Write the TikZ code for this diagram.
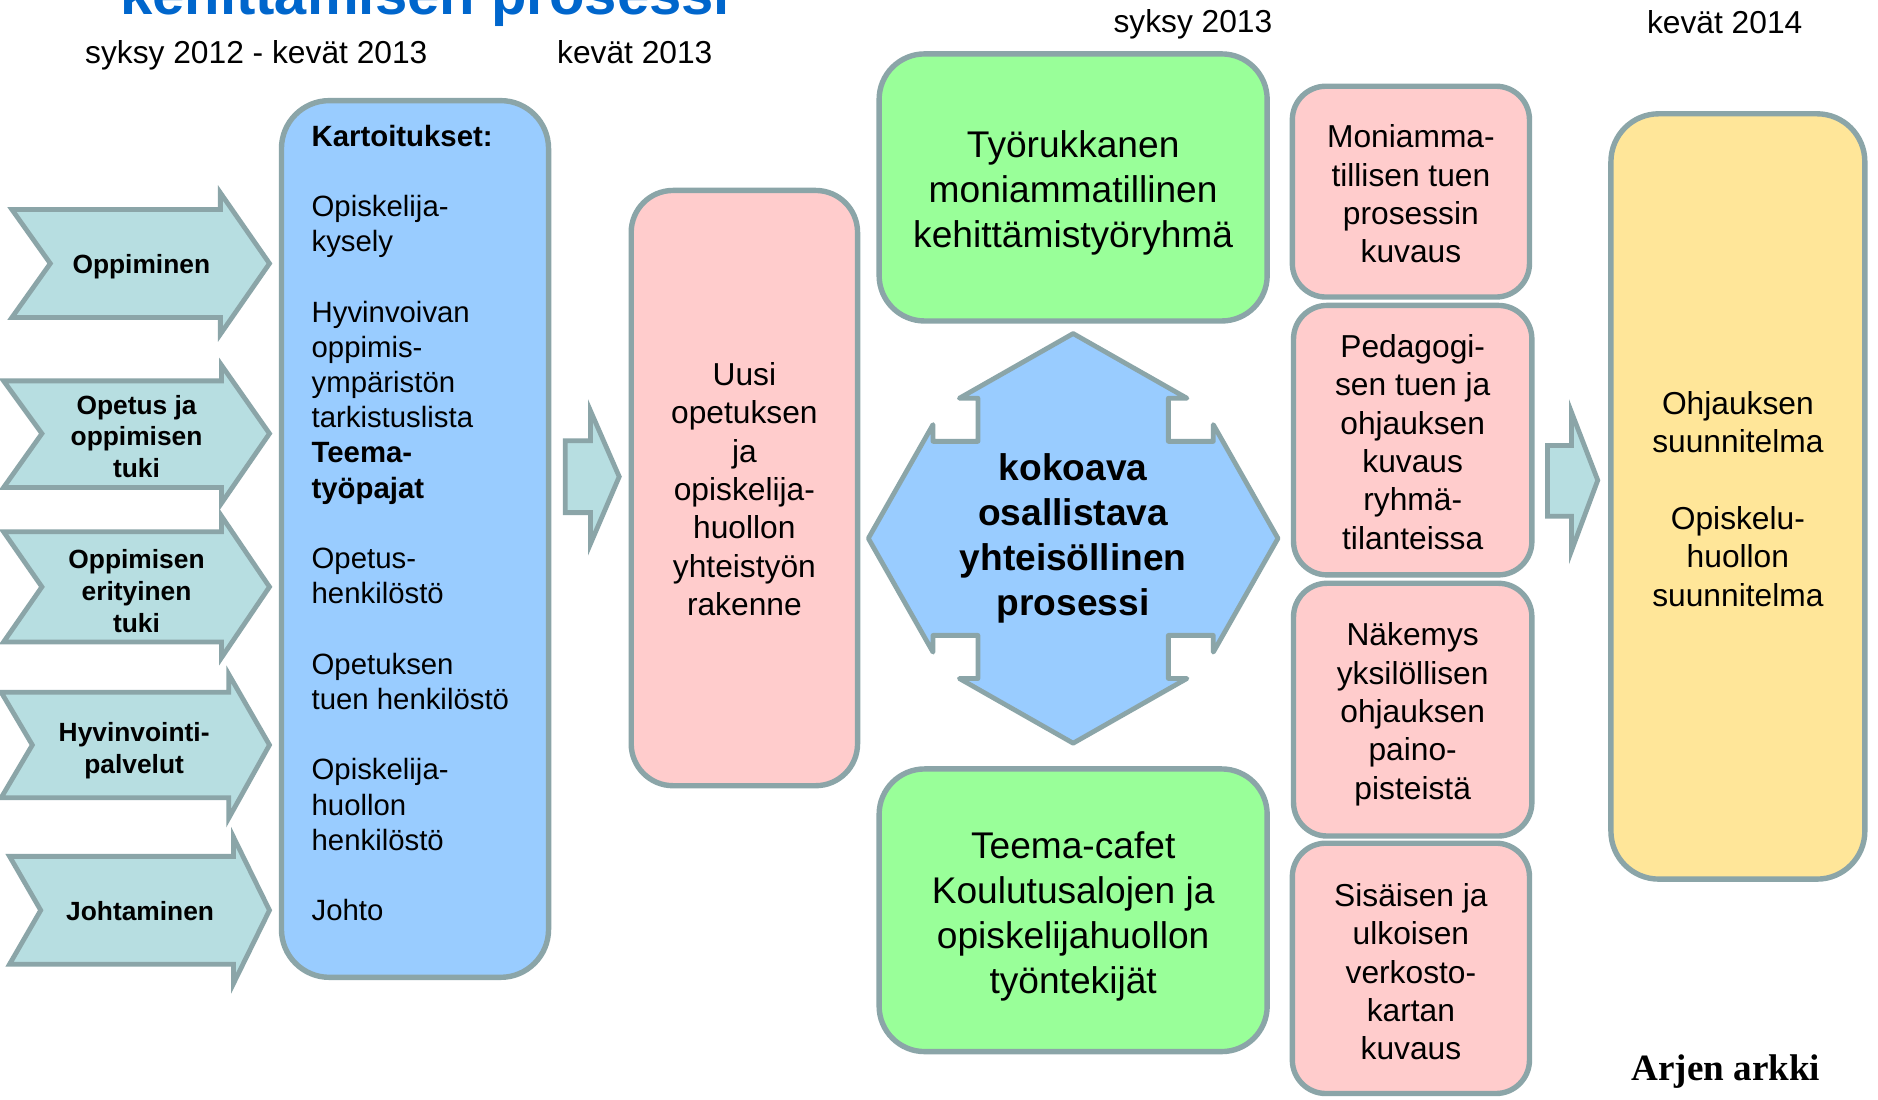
\documentclass[tikz,border=0pt]{standalone}
\usepackage{fontspec}
\setmainfont{Liberation Sans}
\newfontfamily\arjenfont{Liberation Serif}
\definecolor{bord}{HTML}{8BA5A8}
\definecolor{boxblue}{HTML}{99CCFF}
\definecolor{boxpink}{HTML}{FFCCCC}
\definecolor{boxgreen}{HTML}{99FF99}
\definecolor{boxyellow}{HTML}{FFE699}
\definecolor{arrowfill}{HTML}{B7DEE1}
\definecolor{titleblue}{HTML}{0066CC}
\newcommand\fontpink{\fontsize{26.5}{32}\selectfont}
\newcommand\fontgreen{\fontsize{31}{37.5}\selectfont}
\newcommand\fonthex{\fontsize{31}{37.7}\selectfont\bfseries}
\newcommand\fontarrow{\fontsize{22}{26.5}\selectfont\bfseries}
\newcommand\fontkart{\fontsize{24.5}{29.4}\selectfont}
\newcommand\fontdate{\fontsize{26.5}{32}\selectfont}
\newcommand\fonttitle{\fontsize{48.5}{56}\selectfont\bfseries}
\tikzset{
  box/.style={draw=bord, line width=4.5pt, inner sep=0pt, rounded corners=#1},
  box/.default=30pt,
  boxtext/.style={align=center, inner sep=0pt},
  arr/.style={draw=bord, fill=arrowfill, line width=4pt, line join=miter},
  arrtext/.style={font=\fontarrow, align=center, inner sep=0pt},
  datelabel/.style={font=\fontdate, anchor=base, inner sep=0pt},
}
\begin{document}
\begin{tikzpicture}[x=1pt,y=-1pt]
\useasboundingbox (0,0) rectangle (1568,918);
\fill[white] (0,0) rectangle (1568,918);

% title (cut off at top)
\node[anchor=base west, font=\fonttitle, text=titleblue, inner sep=0pt] (title) at (100,12.5) {kehittämisen prosessi};

% date labels
\node[datelabel] (d1) at (214,53) {syksy 2012 - kevät 2013};
\node[datelabel] (d2) at (530,53) {kevät 2013};
\node[datelabel] (d3) at (996,27) {syksy 2013};
\node[datelabel] (d4) at (1440,28) {kevät 2014};

% left chevron arrows
\draw[arr] (10,175) -- (184,175) -- (184,161) -- (225,220) -- (184,279) -- (184,265) -- (10,265) -- (42,220) -- cycle;
\node[arrtext] (a1) at (118,222.5) {Oppiminen};
\draw[arr] (3,318) -- (185,318) -- (185,305) -- (225,362) -- (185,420) -- (185,407) -- (3,407) -- (35,362) -- cycle;
\node[arrtext] (a2) at (114,364.5) {Opetus ja\\oppimisen\\tuki};
\draw[arr] (3,444) -- (185,444) -- (185,431) -- (225,490) -- (185,549) -- (185,536) -- (3,536) -- (35,490) -- cycle;
\node[arrtext] (a3) at (114,493.5) {Oppimisen\\erityinen\\tuki};
\draw[arr] (1,578) -- (191,578) -- (191,563) -- (225,622) -- (191,683) -- (191,666) -- (1,666) -- (27,622) -- cycle;
\node[arrtext] (a4) at (112,626.5) {Hyvinvointi-\\palvelut};
\draw[arr] (8,715) -- (195,715) -- (195,699) -- (225,760) -- (195,821) -- (195,805) -- (8,805) -- (34,760) -- cycle;
\node[arrtext] (a5) at (117,761) {Johtaminen};

% Kartoitukset box
\node[box=40pt, fill=boxblue, minimum width=223pt, minimum height=732pt] (kart) at (346.5,450) {};
\node[anchor=north west, align=left, font=\fontkart, inner sep=0pt] (karttext) at (260,104) {%
\textbf{Kartoitukset:}\\[29.4pt]
Opiskelija-\\kysely\\[29.4pt]
Hyvinvoivan\\oppimis-\\ympäristön\\tarkistuslista\\\textbf{Teema-}\\\textbf{työpajat}\\[29.4pt]
Opetus-\\henkilöstö\\[29.4pt]
Opetuksen\\tuen henkilöstö\\[29.4pt]
Opiskelija-\\huollon\\henkilöstö\\[29.4pt]
Johto};

% small arrow 1
\draw[arr] (472,368) -- (493,368) -- (493,343) -- (517,398) -- (493,454) -- (493,428) -- (472,428) -- cycle;

% Uusi box
\node[box=35pt, fill=boxpink, minimum width=189pt, minimum height=497pt] (uusi) at (621.5,407.5) {};
\node[boxtext, font=\fontpink] (uusitext) at ([yshift=-1pt]uusi.center) {Uusi\\opetuksen\\ja\\opiskelija-\\huollon\\yhteistyön\\rakenne};

% green boxes
\node[box=38pt, fill=boxgreen, minimum width=324pt, minimum height=223pt] (tyo) at (896,156.5) {};
\node[boxtext, font=\fontgreen] (tyotext) at ([yshift=-4.5pt]tyo.center) {Työrukkanen\\moniammatillinen\\kehittämistyöryhmä};
\node[box=38pt, fill=boxgreen, minimum width=324pt, minimum height=236pt] (teema) at (896,760) {};
\node[boxtext, font=\fontgreen] (teematext) at ([yshift=-5pt]teema.center) {Teema-cafet\\Koulutusalojen ja\\opiskelijahuollon\\työntekijät};

% central cross-hexagon
\begin{scope}[shift={(896,449.5)}]
\draw[arr, fill=boxblue, line join=round] (0,-171) -- (95,-117) -- (79.5,-117) -- (79.5,-81) -- (117,-81) -- (117,-95) -- (171,0)
  -- (117,95) -- (117,81) -- (79.5,81) -- (79.5,117) -- (95,117) -- (0,171)
  -- (-95,117) -- (-79.5,117) -- (-79.5,81) -- (-117,81) -- (-117,95) -- (-171,0)
  -- (-117,-95) -- (-117,-81) -- (-79.5,-81) -- (-79.5,-117) -- (-95,-117) -- cycle;
\end{scope}
\node[font=\fonthex, align=center, inner sep=0pt] (hex) at (896,449.5) {kokoava\\osallistava\\yhteisöllinen\\prosessi};

% right pink column
\node[box=28pt, fill=boxpink, minimum width=198pt, minimum height=176pt] (p1) at (1178,160) {};
\node[boxtext, font=\fontpink] (p1text) at ([yshift=-2pt]p1.center) {Moniamma-\\tillisen tuen\\prosessin\\kuvaus};
\node[box=28pt, fill=boxpink, minimum width=199pt, minimum height=225pt] (p2) at (1179.5,367.5) {};
\node[boxtext, font=\fontpink] (p2text) at ([yshift=-1.5pt]p2.center) {Pedagogi-\\sen tuen ja\\ohjauksen\\kuvaus\\ryhmä-\\tilanteissa};
\node[box=28pt, fill=boxpink, minimum width=199pt, minimum height=211pt] (p3) at (1179.5,592.5) {};
\node[boxtext, font=\fontpink] (p3text) at ([yshift=-4pt]p3.center) {Näkemys\\yksilöllisen\\ohjauksen\\paino-\\pisteistä};
\node[box=28pt, fill=boxpink, minimum width=198pt, minimum height=209pt] (p4) at (1178,808.5) {};
\node[boxtext, font=\fontpink] (p4text) at ([yshift=-3pt]p4.center) {Sisäisen ja\\ulkoisen\\verkosto-\\kartan\\kuvaus};

% small arrow 2
\draw[arr] (1292,372) -- (1312,372) -- (1312,344) -- (1334,401) -- (1312,460) -- (1312,431) -- (1292,431) -- cycle;

% yellow box
\node[box=40pt, fill=boxyellow, minimum width=212pt, minimum height=639pt] (ohj) at (1451,414.5) {};
\node[boxtext, font=\fontpink] (ohjtext) at ([yshift=-2pt]ohj.center) {Ohjauksen\\suunnitelma\\[32pt]Opiskelu-\\huollon\\suunnitelma};

% Arjen arkki
\node[anchor=base, inner sep=0pt, font=\arjenfont\fontsize{31}{36}\selectfont\bfseries] (arjen) at (1441,902) {Arjen arkki};
\end{tikzpicture}
\end{document}
